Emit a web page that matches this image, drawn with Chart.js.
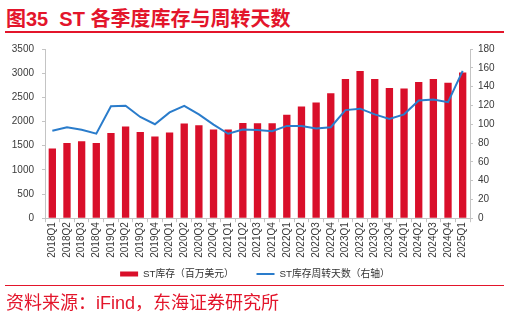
<!DOCTYPE html>
<html>
<head>
<meta charset="utf-8">
<script src="https://cdn.jsdelivr.net/npm/chart.js@4"></script>
<style>
  html, body { margin: 0; padding: 0; background: #fff; }
  body { width: 510px; height: 314px; position: relative; overflow: hidden; font-family: Arial, "Liberation Sans", "Noto Sans CJK SC", sans-serif; }
  .title { position: absolute; left: 6px; top: 3px; font-size: 20px; font-weight: 700; color: #e3152b; white-space: pre; }
  .rule-top { position: absolute; left: 5px; top: 31px; width: 499px; height: 2px; background: #e3152b; }
  .rule-bot { position: absolute; left: 5px; top: 285px; width: 499px; height: 1px; background: #e3152b; z-index: 2; }
  .source { position: absolute; left: 6px; top: 288px; font-size: 18px; color: #e3152b; white-space: pre; z-index: 2; }
  #wrap { position: absolute; left: 0; top: 35px; width: 510px; height: 254px; }
</style>
</head>
<body>
<div class="title">图35  ST 各季度库存与周转天数</div>
<div class="rule-top"></div>
<div id="wrap"><canvas id="c"></canvas></div>
<div class="rule-bot"></div>
<div class="source">资料来源：iFind，东海证券研究所</div>
<script>
/* ===== ST 库存 / 周转天数 ===== */
const quarters = [
  '2018Q1', '2018Q2', '2018Q3', '2018Q4', '2019Q1', '2019Q2', '2019Q3', '2019Q4',
  '2020Q1', '2020Q2', '2020Q3', '2020Q4', '2021Q1', '2021Q2', '2021Q3', '2021Q4',
  '2022Q1', '2022Q2', '2022Q3', '2022Q4', '2023Q1', '2023Q2', '2023Q3', '2023Q4',
  '2024Q1', '2024Q2', '2024Q3', '2024Q4', '2025Q1'
];
// 库存（百万美元）
const inventory = [
  1440, 1555, 1590, 1555, 1760, 1897, 1785, 1692,
  1772, 1958, 1925, 1835, 1835, 1968, 1965, 1965,
  2142, 2313, 2394, 2585, 2879, 3045, 2879, 2694,
  2681, 2817, 2879, 2803, 3015
];
// 周转天数（右轴）
const turnDays = [
  93, 96.8, 94, 90, 119, 119.6, 107.7, 100,
  112.6, 119.6, 110.5, 99.6, 89.8, 94.4, 93.7, 92.6,
  98.2, 98, 95.4, 96.8, 115, 116.5, 110.5, 105.6,
  110.5, 125.3, 126.3, 123.5, 156.8
];
const leftTicks = [0, 500, 1000, 1500, 2000, 2500, 3000, 3500];
const rightTicks = [0, 20, 40, 60, 80, 100, 120, 140, 160, 180];

const RED = '#d90f2a', BLUE = '#2a7ccb', AXIS = '#c4c4c4', TXT = '#3a3a3a';
const tickFont = { family: 'Arial, "Liberation Sans", sans-serif', size: 10 };

new Chart(document.getElementById('c'), {
  data: {
    labels: quarters,
    datasets: [
      { type: 'line', label: 'ST库存周转天数（右轴）', data: turnDays, yAxisID: 'y2',
        borderColor: BLUE, backgroundColor: BLUE, borderWidth: 2, pointRadius: 0, tension: 0,
        pointStyle: 'line', order: 0 },
      { type: 'bar', label: 'ST库存（百万美元）     ', data: inventory, yAxisID: 'y',
        backgroundColor: RED, categoryPercentage: 1, barPercentage: 0.5,
        pointStyle: 'rect', order: 1 },
    ],
  },
  options: {
    responsive: true, maintainAspectRatio: false, animation: false,
    layout: { padding: { top: 12, left: 0, right: 0, bottom: 0 } },
    plugins: {
      tooltip: { enabled: false },
      legend: {
        position: 'bottom', reverse: true,
        labels: {
          usePointStyle: true, pointStyleWidth: 18, boxHeight: 5, padding: 9,
          color: '#333', font: { family: 'Arial, "Noto Sans CJK SC", sans-serif', size: 9.8 },
        },
      },
    },
    scales: {
      x: {
        offset: true,
        grid: { display: true, drawOnChartArea: false, offset: true, color: AXIS, tickLength: 4 },
        border: { color: AXIS },
        ticks: { color: TXT, font: tickFont, minRotation: 90, maxRotation: 90, autoSkip: false, padding: 0 },
        afterFit: s => { s.height = 42; },
      },
      y: {
        position: 'left', min: 0, max: 3500,
        grid: { display: true, drawOnChartArea: false, color: AXIS, tickLength: 3 },
        border: { color: AXIS },
        ticks: { color: TXT, font: tickFont, stepSize: 500, padding: 8,
                 callback: v => leftTicks.includes(v) ? v : '' },
        afterFit: s => { s.width = 45; },
      },
      y2: {
        position: 'right', min: 0, max: 180,
        grid: { display: true, drawOnChartArea: false, color: AXIS, tickLength: 3 },
        border: { color: AXIS },
        ticks: { color: TXT, font: tickFont, stepSize: 20, padding: 5,
                 callback: v => rightTicks.includes(v) ? v : '' },
        afterFit: s => { s.width = 40; },
      },
    },
  },
});
</script>
</body>
</html>
